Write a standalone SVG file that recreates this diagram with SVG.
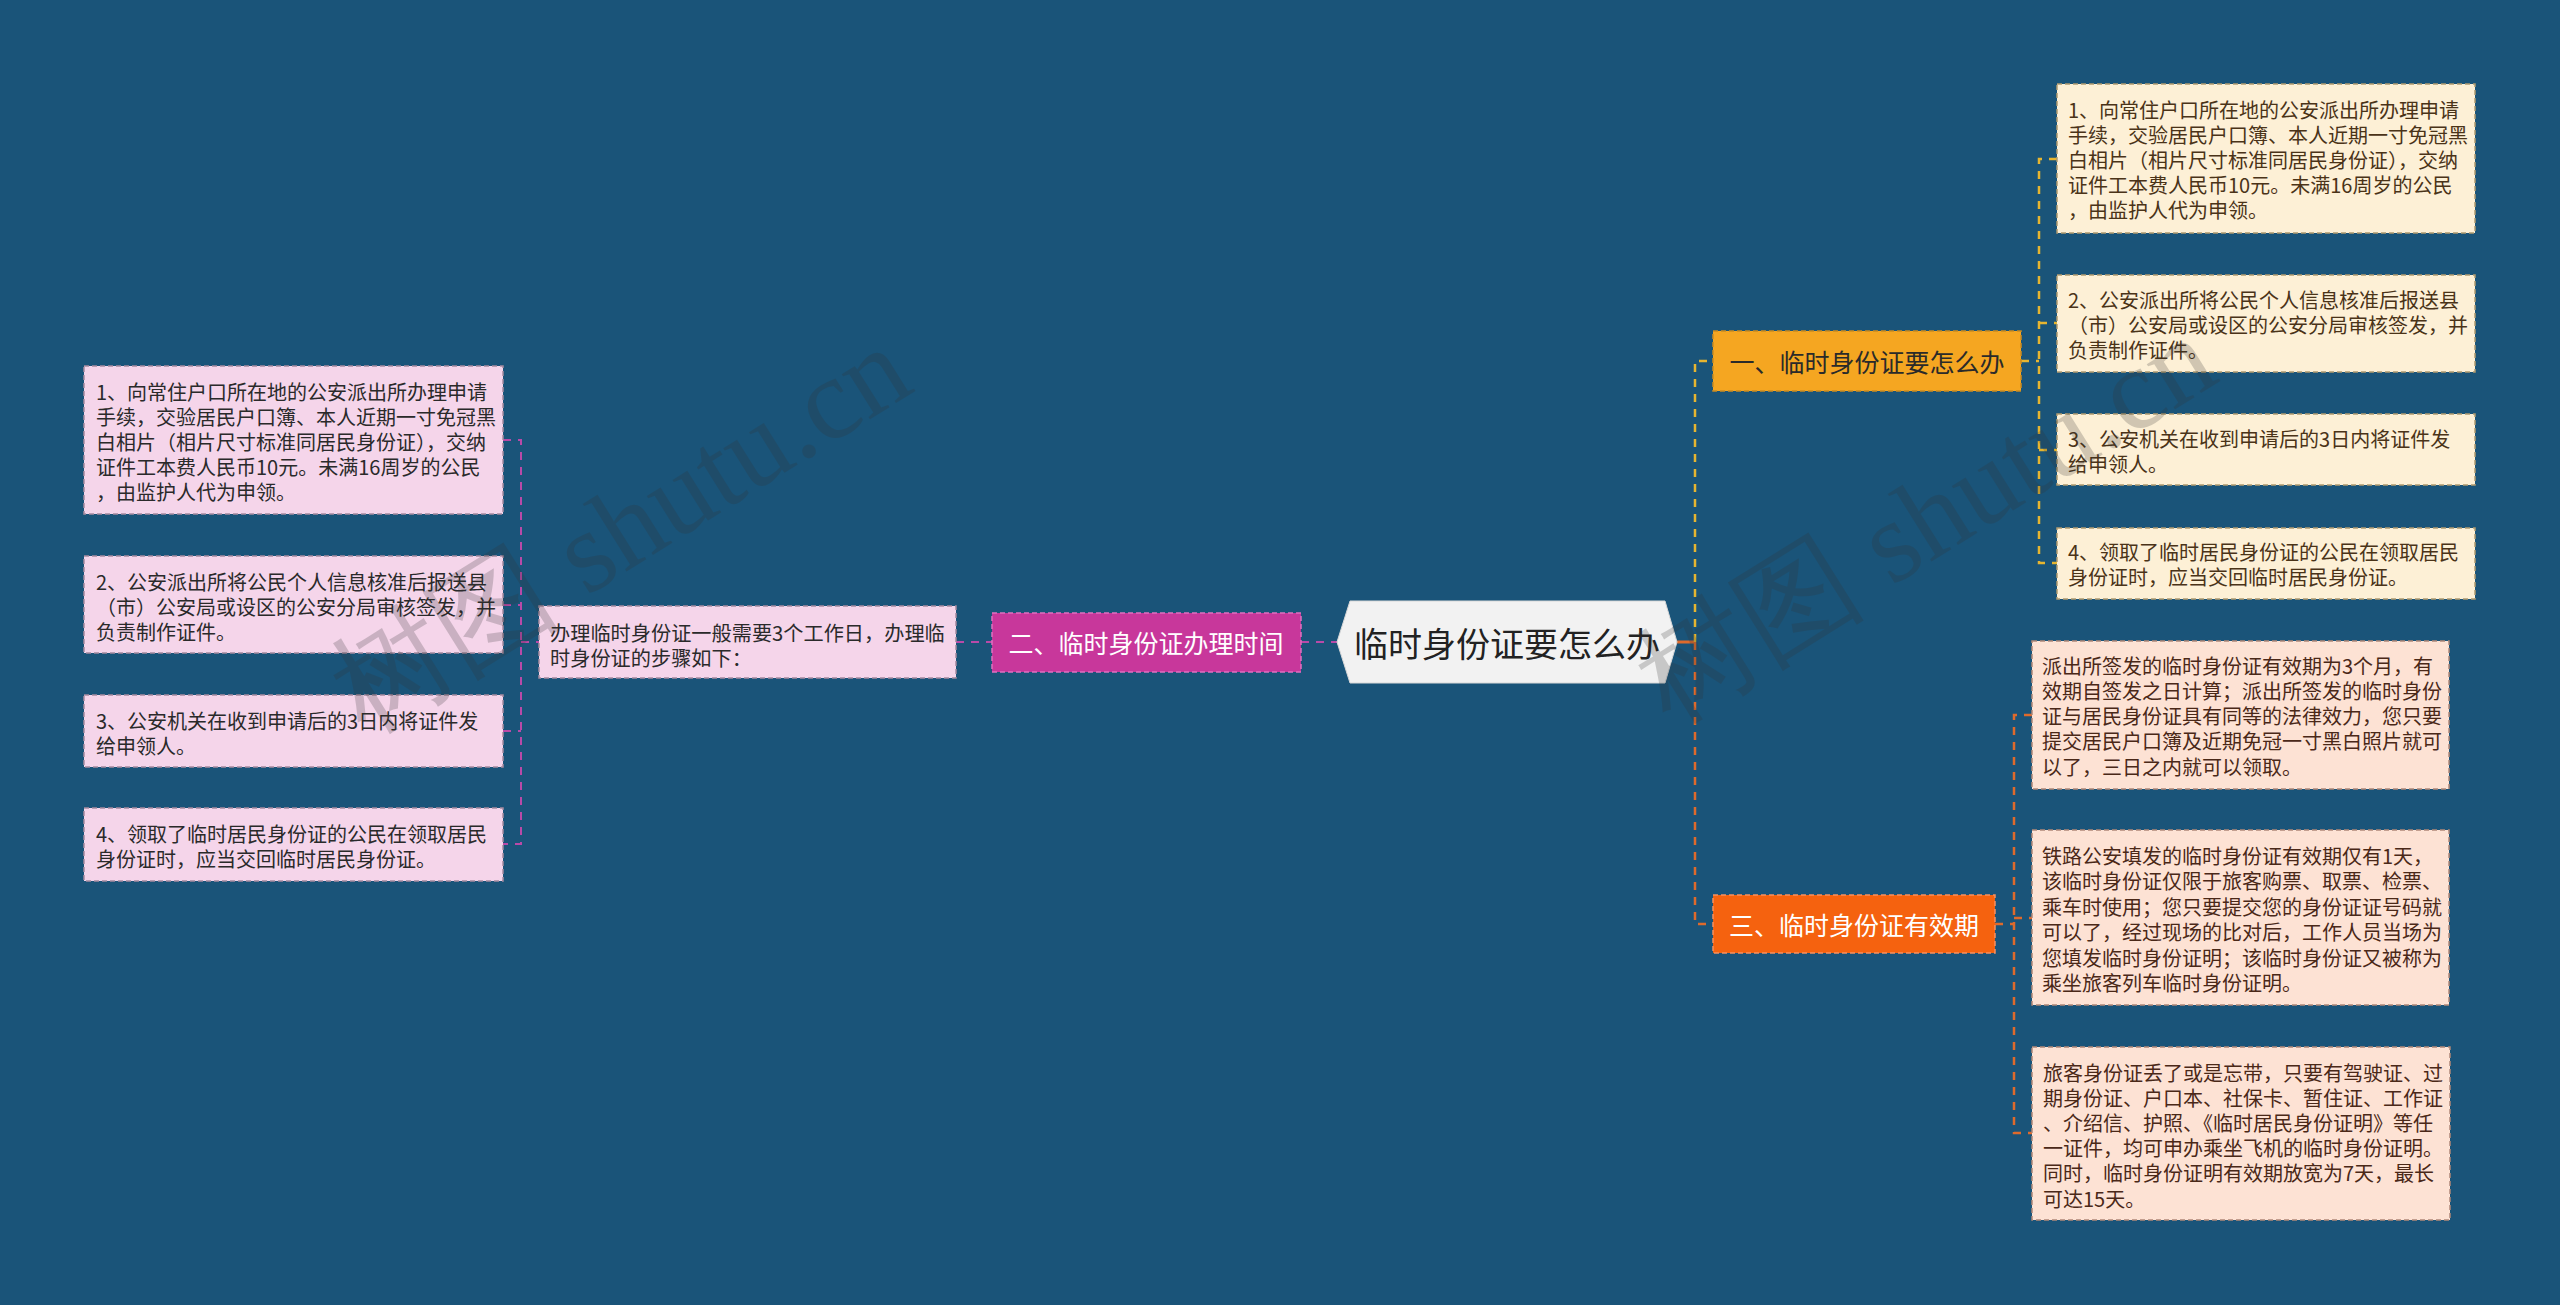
<svg xmlns="http://www.w3.org/2000/svg" width="2560" height="1305" viewBox="0 0 2560 1305">
<style>
.t{font-family:"Noto Sans CJK SC","Noto Sans",sans-serif;dominant-baseline:central}
.leafL rect{fill:#f5d5ea;stroke:#a58aa0;stroke-width:1.5;stroke-dasharray:5 3}
.leafL text{font-size:20px;fill:#2a2a2a}
.leafR rect{fill:#fdf0d6;stroke:#b09a70;stroke-width:1.5;stroke-dasharray:5 3}
.leafR text{font-size:20px;fill:#4a3318}
.leafO rect{fill:#fde2d4;stroke:#b08878;stroke-width:1.5;stroke-dasharray:5 3}
.leafO text{font-size:20px;fill:#4a2818}
.br text{font-size:25px;text-anchor:middle}
.cm{fill:none;stroke:#b84aa8;stroke-width:2;stroke-dasharray:8 7}
.cy{fill:none;stroke:#e6b530;stroke-width:2.5;stroke-dasharray:8 7}
.co{fill:none;stroke:#de6a2c;stroke-width:2.5;stroke-dasharray:8 7}
.wm{font-family:"Liberation Serif",serif;font-size:116px;fill:#333;opacity:0.22}
</style>
<rect x="0" y="0" width="2560" height="1305" fill="#1a5479"/>

<g id="connectors">
<path class="cm" d="M503,440 H521 V844 H503 M503,605 H521 M503,731 H521 M521,642 H539"/>
<path class="cm" d="M956,642 H992 M1301,642 H1337"/>
<path d="M1677,642 H1695" fill="none" stroke="#de6a2c" stroke-width="3"/>
<path class="cy" d="M1695,642 V361 H1713"/>
<path class="co" d="M1695,642 V924 H1713"/>
<path class="cy" d="M2021,361 H2039 M2057,159 H2039 V563 H2057 M2039,323 H2057 M2039,450 H2057"/>
<path class="co" d="M1995,924 H2014 M2032,715 H2014 V1133 H2032 M2014,918 H2032"/>
</g>

<g id="root">
<polygon points="1337,642 1350,601 1665,601 1677,642 1665,683 1350,683" fill="#f2f2f2" stroke="#d8d8d8" stroke-width="1"/>
<text class="t" x="1507" y="642" font-size="34" text-anchor="middle" fill="#222">临时身份证要怎么办</text>
</g>

<g id="branch2" class="br">
<rect x="992" y="613" width="309" height="59" fill="#c8379b" stroke="#e070c0" stroke-width="1.5" stroke-dasharray="5 3"/>
<text class="t" x="1146" y="642" fill="#ffffff">二、临时身份证办理时间</text>
</g>
<g id="branch1" class="br">
<rect x="1713" y="331" width="308" height="60" fill="#f5a621" stroke="#c98a20" stroke-width="1.5" stroke-dasharray="5 3"/>
<text class="t" x="1867" y="361" fill="#2a2a2a">一、临时身份证要怎么办</text>
</g>
<g id="branch3" class="br">
<rect x="1713" y="895" width="282" height="58" fill="#f5620f" stroke="#f59060" stroke-width="1.5" stroke-dasharray="5 3"/>
<text class="t" x="1854" y="924" fill="#ffffff">三、临时身份证有效期</text>
</g>

<g id="b2-intro" class="leafL">
<rect x="539" y="606" width="417" height="72"/>
<text class="t" x="550" y="632" style="font-size:20.2px">办理临时身份证一般需要3个工作日，办理临</text>
<text class="t" x="550" y="657" style="font-size:20.2px">时身份证的步骤如下：</text>
</g>

<g id="b2-step1" class="leafL">
<rect x="84" y="366" width="419" height="148"/>
<text class="t" x="96" y="391">1、向常住户口所在地的公安派出所办理申请</text>
<text class="t" x="96" y="416">手续，交验居民户口簿、本人近期一寸免冠黑</text>
<text class="t" x="96" y="441">白相片（相片尺寸标准同居民身份证），交纳</text>
<text class="t" x="96" y="466">证件工本费人民币10元。未满16周岁的公民</text>
<text class="t" x="96" y="491">，由监护人代为申领。</text>
</g>
<g id="b2-step2" class="leafL">
<rect x="84" y="556" width="419" height="97"/>
<text class="t" x="96" y="581">2、公安派出所将公民个人信息核准后报送县</text>
<text class="t" x="96" y="606">（市）公安局或设区的公安分局审核签发，并</text>
<text class="t" x="96" y="631">负责制作证件。</text>
</g>
<g id="b2-step3" class="leafL">
<rect x="84" y="695" width="419" height="72"/>
<text class="t" x="96" y="720">3、公安机关在收到申请后的3日内将证件发</text>
<text class="t" x="96" y="745">给申领人。</text>
</g>
<g id="b2-step4" class="leafL">
<rect x="84" y="808" width="419" height="73"/>
<text class="t" x="96" y="833">4、领取了临时居民身份证的公民在领取居民</text>
<text class="t" x="96" y="858">身份证时，应当交回临时居民身份证。</text>
</g>

<g id="b1-step1" class="leafR">
<rect x="2057" y="84" width="418" height="149"/>
<text class="t" x="2068" y="109">1、向常住户口所在地的公安派出所办理申请</text>
<text class="t" x="2068" y="134">手续，交验居民户口簿、本人近期一寸免冠黑</text>
<text class="t" x="2068" y="159">白相片（相片尺寸标准同居民身份证），交纳</text>
<text class="t" x="2068" y="184">证件工本费人民币10元。未满16周岁的公民</text>
<text class="t" x="2068" y="209">，由监护人代为申领。</text>
</g>
<g id="b1-step2" class="leafR">
<rect x="2057" y="275" width="418" height="97"/>
<text class="t" x="2068" y="299">2、公安派出所将公民个人信息核准后报送县</text>
<text class="t" x="2068" y="324">（市）公安局或设区的公安分局审核签发，并</text>
<text class="t" x="2068" y="349">负责制作证件。</text>
</g>
<g id="b1-step3" class="leafR">
<rect x="2057" y="414" width="418" height="71"/>
<text class="t" x="2068" y="438">3、公安机关在收到申请后的3日内将证件发</text>
<text class="t" x="2068" y="463">给申领人。</text>
</g>
<g id="b1-step4" class="leafR">
<rect x="2057" y="528" width="418" height="71"/>
<text class="t" x="2068" y="551">4、领取了临时居民身份证的公民在领取居民</text>
<text class="t" x="2068" y="576">身份证时，应当交回临时居民身份证。</text>
</g>

<g id="b3-a" class="leafO">
<rect x="2032" y="641" width="417" height="148"/>
<text class="t" x="2042" y="665">派出所签发的临时身份证有效期为3个月，有</text>
<text class="t" x="2042" y="690">效期自签发之日计算；派出所签发的临时身份</text>
<text class="t" x="2042" y="715">证与居民身份证具有同等的法律效力，您只要</text>
<text class="t" x="2042" y="740">提交居民户口簿及近期免冠一寸黑白照片就可</text>
<text class="t" x="2042" y="766">以了，三日之内就可以领取。</text>
</g>
<g id="b3-b" class="leafO">
<rect x="2032" y="830" width="417" height="175"/>
<text class="t" x="2042" y="855">铁路公安填发的临时身份证有效期仅有1天，</text>
<text class="t" x="2042" y="880">该临时身份证仅限于旅客购票、取票、检票、</text>
<text class="t" x="2042" y="906">乘车时使用；您只要提交您的身份证证号码就</text>
<text class="t" x="2042" y="931">可以了，经过现场的比对后，工作人员当场为</text>
<text class="t" x="2042" y="957">您填发临时身份证明；该临时身份证又被称为</text>
<text class="t" x="2042" y="982">乘坐旅客列车临时身份证明。</text>
</g>
<g id="b3-c" class="leafO">
<rect x="2032" y="1047" width="418" height="173"/>
<text class="t" x="2043" y="1072">旅客身份证丢了或是忘带，只要有驾驶证、过</text>
<text class="t" x="2043" y="1097">期身份证、户口本、社保卡、暂住证、工作证</text>
<text class="t" x="2043" y="1122">、介绍信、护照、《临时居民身份证明》等任</text>
<text class="t" x="2043" y="1147">一证件，均可申办乘坐飞机的临时身份证明。</text>
<text class="t" x="2043" y="1172">同时，临时身份证明有效期放宽为7天，最长</text>
<text class="t" x="2043" y="1198">可达15天。</text>
</g>

<g id="watermark">
<text class="wm" x="0" y="0" transform="translate(365,735) rotate(-32)">树图 shutu.cn</text>
<text class="wm" x="0" y="0" transform="translate(1670,725) rotate(-32)">树图 shutu.cn</text>
</g>
</svg>
